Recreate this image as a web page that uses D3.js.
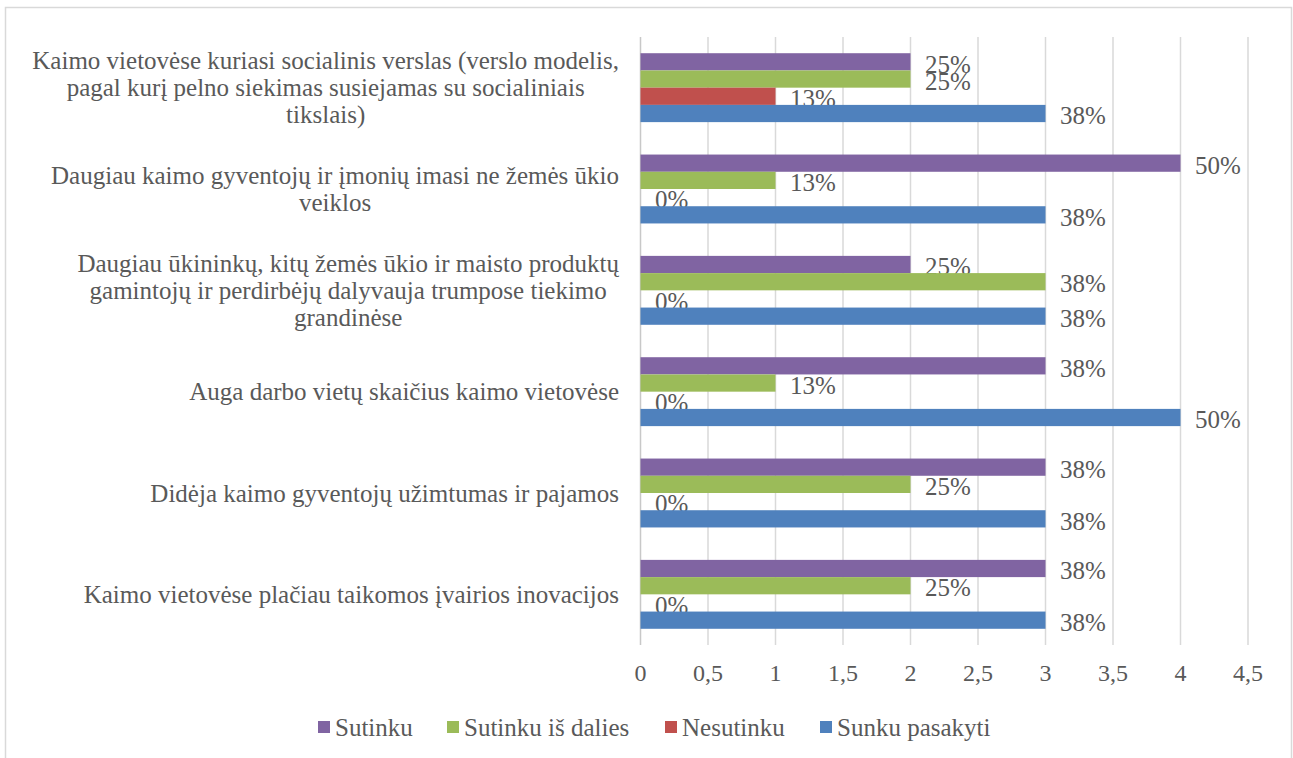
<!DOCTYPE html>
<html>
<head>
<meta charset="utf-8">
<script src="https://cdn.jsdelivr.net/npm/d3@7"></script>
<style>
  body { margin: 0; background: #fff; }
  svg text { font-family: "Liberation Serif", "DejaVu Serif", serif; fill: #595959; }
</style>
</head>
<body>
<div id="vis"></div>
<script>
// categories top to bottom, already split into the lines used in the picture
var categories = [
  ["Kaimo vietovėse kuriasi socialinis verslas (verslo modelis,", "pagal kurį pelno siekimas susiejamas su socialiniais", "tikslais)"],
  ["Daugiau kaimo gyventojų ir įmonių imasi ne žemės ūkio", "veiklos"],
  ["Daugiau ūkininkų, kitų žemės ūkio ir maisto produktų", "gamintojų ir perdirbėjų dalyvauja trumpose tiekimo", "grandinėse"],
  ["Auga darbo vietų skaičius kaimo vietovėse"],
  ["Didėja kaimo gyventojų užimtumas ir pajamos"],
  ["Kaimo vietovėse plačiau taikomos įvairios inovacijos"]
];

var seriesNames = ["Sutinku", "Sutinku iš dalies", "Nesutinku", "Sunku pasakyti"];
var seriesColors = ["#8064A2", "#9BBB59", "#C0504D", "#4F81BD"];

var sutinku       = [2, 4, 2, 3, 3, 3];
var sutinkuDalies = [2, 1, 3, 1, 2, 2];
var nesutinku     = [1, 0, 0, 0, 0, 0];
var sunku         = [3, 3, 3, 4, 3, 3];

var pctLabels = [
  ["25%", "25%", "13%", "38%"],
  ["50%", "13%", "0%", "38%"],
  ["25%", "38%", "0%", "38%"],
  ["38%", "13%", "0%", "50%"],
  ["38%", "25%", "0%", "38%"],
  ["38%", "25%", "0%", "38%"]
];

var xTicks = [0, 0.5, 1, 1.5, 2, 2.5, 3, 3.5, 4, 4.5];

var values = [sutinku, sutinkuDalies, nesutinku, sunku];

var width = 1293, height = 758;
var plot = {left: 640, right: 1247.5, top: 37, bottom: 645};

var svg = d3.select("#vis").append("svg")
  .attr("width", width)
  .attr("height", height);

// chart frame
svg.append("rect")
  .attr("x", 5.5).attr("y", 7.5)
  .attr("width", 1286).attr("height", 770)
  .attr("fill", "none")
  .attr("stroke", "#d9d9d9")
  .attr("stroke-width", 1.5);

var x = d3.scaleLinear().domain([0, 4.5]).range([plot.left, plot.right]);

var y = d3.scaleBand()
  .domain(d3.range(categories.length))
  .range([plot.top, plot.bottom])
  .paddingInner(0.32)
  .paddingOuter(0.16);

var ySub = d3.scaleBand()
  .domain(d3.range(seriesNames.length))
  .range([0, y.bandwidth()]);

// gridlines
svg.append("g")
  .selectAll("line")
  .data(xTicks)
  .enter().append("line")
  .attr("x1", function(d) { return x(d) + 0.5; })
  .attr("x2", function(d) { return x(d) + 0.5; })
  .attr("y1", plot.top)
  .attr("y2", plot.bottom)
  .attr("stroke", function(d) { return d === 0 ? "#c8c8c8" : "#d9d9d9"; })
  .attr("stroke-width", 1.5);

// x tick labels
var xAxis = d3.axisBottom(x)
  .tickValues(xTicks)
  .tickSize(0)
  .tickPadding(0)
  .tickFormat(function(d) { return String(d).replace(".", ","); });

var xg = svg.append("g")
  .attr("transform", "translate(0," + 664 + ")")
  .call(xAxis);
xg.select(".domain").remove();
xg.selectAll("text")
  .attr("dy", "0.71em")
  .style("font-size", "24px")
  .attr("fill", "#595959");

// bars
var groups = svg.append("g")
  .selectAll("g")
  .data(categories)
  .enter().append("g")
  .attr("transform", function(d, i) { return "translate(0," + y(i) + ")"; });

groups.each(function(cat, ci) {
  var g = d3.select(this);
  seriesNames.forEach(function(s, si) {
    var v = values[si][ci];
    if (v > 0) {
      g.append("rect")
        .attr("x", x(0) + 0.5)
        .attr("y", ySub(si))
        .attr("width", x(v) - x(0))
        .attr("height", ySub.bandwidth())
        .attr("fill", seriesColors[si]);
    }
    g.append("text")
      .attr("x", x(v) + 15)
      .attr("y", ySub(si) + ySub.bandwidth() / 2 + 2)
      .attr("dy", "0.35em")
      .style("font-size", "25px")
      .text(pctLabels[ci][si]);
  });
});

// category labels, centred block with right edge near the axis
var labelRight = 619;
var lineH = 27;
var catG = svg.append("g");
categories.forEach(function(lines, ci) {
  var t = catG.append("text")
    .style("font-size", "25px")
    .attr("text-anchor", "middle");
  var cy = y(ci) + y.bandwidth() / 2;
  var y0 = cy - (lines.length - 1) * lineH / 2;
  var tspans = lines.map(function(l, li) {
    return t.append("tspan")
      .attr("y", y0 + li * lineH)
      .attr("dy", "0.35em")
      .text(l);
  });
  var maxW = d3.max(tspans, function(ts) { return ts.node().getComputedTextLength(); });
  tspans.forEach(function(ts) { ts.attr("x", labelRight - maxW / 2); });
});

// legend
var legendX = [318, 447, 665, 820];
var legend = svg.append("g")
  .selectAll("g")
  .data(seriesNames)
  .enter().append("g")
  .attr("transform", function(d, i) { return "translate(" + legendX[i] + "," + 727 + ")"; });

legend.append("rect")
  .attr("x", 0).attr("y", -6)
  .attr("width", 12).attr("height", 12)
  .attr("fill", function(d, i) { return seriesColors[i]; });

legend.append("text")
  .attr("x", 17)
  .attr("dy", "0.35em")
  .style("font-size", "25px")
  .text(function(d) { return d; });
</script>
</body>
</html>
